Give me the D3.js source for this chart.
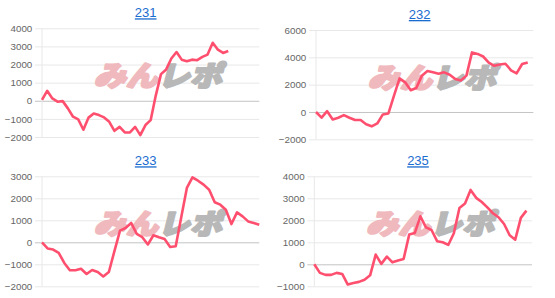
<!DOCTYPE html>
<html>
<head>
<meta charset="utf-8">
<script src="https://cdn.jsdelivr.net/npm/d3@7"></script>
<style>
    body { margin: 0; background: #fff; }
    svg { display: block; font-family: "Liberation Sans", Arial, sans-serif; }
</style>
</head>
<body>
<svg id="chart" width="555" height="298"></svg>
<script>

// machine numbers shown as titles
var titles = ["231", "232", "233", "235"];

// number of x categories on each chart (data may stop before the end)
var labelCounts = [43, 40, 40, 40];

var s231 = [50, 550, 130, -50, -20, -420, -880, -1030, -1600, -930, -700, -790, -920, -1160,
    -1660, -1440, -1750, -1750, -1440, -1900, -1340, -1070, 300, 1470, 1730, 2330, 2690,
    2270, 2180, 2270, 2240, 2420, 2550, 3200, 2820, 2640, 2750];

var s232 = [0, -420, 60, -550, -420, -230, -420, -590, -590, -900, -1050, -840, -180, -110,
    1200, 2460, 2170, 1590, 1760, 2660, 3000, 2900, 2800, 2900, 2730, 2420, 2300, 2660,
    4360, 4250, 4060, 3620, 3380, 3480, 3530, 3050, 2830, 3510, 3630];

var s233 = [0, -280, -330, -480, -940, -1270, -1270, -1200, -1440, -1260, -1350, -1550, -1350,
    -400, 530, 650, 880, 380, 230, -100, 320, 230, 150, -210, -180, 1150, 2470, 2950, 2800,
    2620, 2390, 1820, 1710, 1480, 830, 1360, 1180, 950, 880, 800];

var s235 = [0, -390, -480, -480, -390, -440, -920, -850, -800, -700, -500, 440, 20, 350, 90,
    170, 240, 1350, 1420, 2180, 1680, 1560, 1050, 1000, 880, 1410, 2560, 2760, 3380, 3020,
    2830, 2590, 2320, 2140, 1830, 1320, 1120, 2110, 2440];

var series = [s231, s232, s233, s235];

var yDomains = [[-2000, 4000], [-2000, 6000], [-2000, 3000], [-1000, 4000]];
var yTicks = [
    [-2000, -1000, 0, 1000, 2000, 3000, 4000],
    [-2000, 0, 2000, 4000, 6000],
    [-2000, -1000, 0, 1000, 2000, 3000],
    [-1000, 0, 1000, 2000, 3000, 4000]
];

// watermark text
var markLeft = "みん", markRight = "レポ";

// plot boxes
var layout = [
    {left: 42, right: 259.3, top: 28.3, bottom: 137},
    {left: 316, right: 533.3, top: 30, bottom: 139.3},
    {left: 42, right: 259.3, top: 176.3, bottom: 286.3},
    {left: 314.3, right: 532, top: 176.3, bottom: 286.3}
];

var svg = d3.select("#chart");

series.forEach(function(data, i) {
    var box = layout[i]
        , w = box.right - box.left
        , h = box.bottom - box.top;

    var g = svg.append("g")
        .attr("transform", "translate(" + box.left + "," + box.top + ")");

    var x = d3.scalePoint()
        .domain(d3.range(labelCounts[i]))
        .range([0, w]);

    var y = d3.scaleLinear()
        .domain(yDomains[i])
        .range([h, 0]);

    var yAxis = d3.axisLeft(y)
        .tickValues(yTicks[i])
        .tickSizeInner(-w)
        .tickSizeOuter(0)
        .tickPadding(9.7)
        .tickFormat(d3.format("d"));

    var gy = g.append("g")
        .attr("class", "axis axis--y")
        .call(yAxis);

    gy.select(".domain").remove();
    gy.selectAll(".tick line")
        .attr("x1", -7)
        .attr("x2", w)
        .attr("stroke", function(d) { return d === 0 ? "#c4c4c4" : "#e8e8e8"; })
        .attr("stroke-width", 1);
    gy.selectAll(".tick text")
        .attr("fill", "#666")
        .attr("font-size", "9.8px");

    // left axis line
    g.append("line")
        .attr("x1", 0).attr("x2", 0)
        .attr("y1", 0).attr("y2", h)
        .attr("stroke", "#e8e8e8");

    // watermark
    var mark = g.append("text")
        .attr("transform", "translate(52," + 58 + ") skewX(-14)")
        .attr("font-family", "'Noto Sans CJK JP', sans-serif")
        .attr("font-weight", 900)
        .attr("font-size", 28)
        .attr("stroke-width", 2.2)
        .attr("stroke-linejoin", "round")
        .attr("textLength", 128)
        .attr("lengthAdjust", "spacingAndGlyphs");
    mark.append("tspan").attr("fill", "#efb9bd").attr("stroke", "#efb9bd").text(markLeft);
    mark.append("tspan").attr("fill", "#b8b8b8").attr("stroke", "#b8b8b8").text(markRight);

    var line = d3.line()
        .x(function(d, k) { return x(k); })
        .y(function(d) { return y(d); });

    g.append("path")
        .datum(data)
        .attr("fill", "none")
        .attr("stroke", "#ff4f6f")
        .attr("stroke-width", 2.6)
        .attr("stroke-linejoin", "round")
        .attr("d", line);

    // title link
    g.append("text")
        .attr("x", 103.7)
        .attr("y", -11)
        .attr("text-anchor", "middle")
        .attr("font-size", "13px")
        .attr("fill", "#1a6ccf")
        .attr("text-decoration", "underline")
        .text(titles[i]);
});

</script>
</body>
</html>
